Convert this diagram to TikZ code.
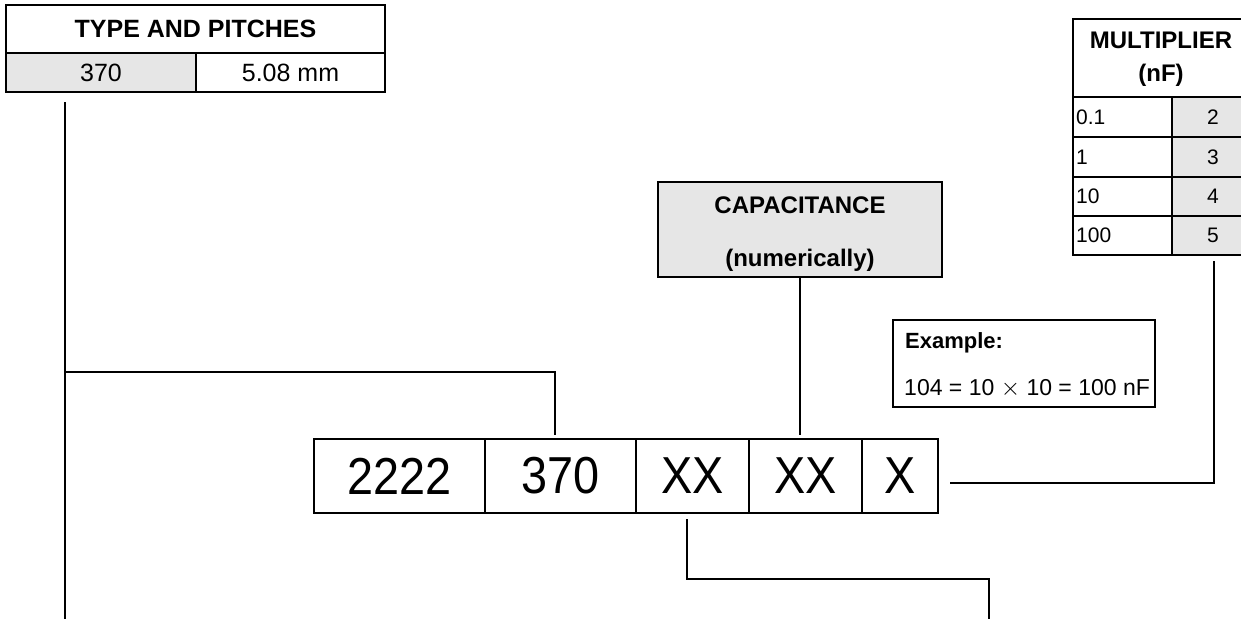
\documentclass[tikz,border=0pt]{standalone}
\usepackage{fontspec}
\setmainfont{Liberation Sans}
\usepackage{graphicx}
\definecolor{cellgray}{HTML}{E6E6E6}
\begin{document}
\begin{tikzpicture}[x=1pt,y=-1pt,
  cell/.style={draw,line width=1.3pt,inner sep=0pt,outer sep=0pt},
  shaded/.style={fill=cellgray},
  boldtxt/.style={font=\fontsize{25}{29}\selectfont\bfseries},
  txt/.style={font=\fontsize{25}{29}\selectfont},
  rowtxt/.style={font=\fontsize{21}{25}\selectfont},
  bigtxt/.style={font=\fontsize{52}{60}\selectfont},
  conn/.style={line width=2.6pt,line cap=rect}]
\useasboundingbox (0,0) rectangle (1241,618);

% ---- type and pitches table
\node[cell,boldtxt,minimum width=379pt,minimum height=48pt] (tphead) at (195.5,29) {TYPE AND PITCHES};
\node[cell,shaded,txt,minimum width=190pt,minimum height=39pt] (tp370) at (101,72.5) {370};
\node[cell,txt,minimum width=189pt,minimum height=39pt] (tp508) at (290.5,72.5) {5.08 mm};

% ---- main code box
\node[cell,bigtxt,minimum width=171pt,minimum height=74pt] (c1) at (399.5,476) {\scalebox{0.9}[1]{2222}};
\node[cell,bigtxt,minimum width=151pt,minimum height=74pt] (c2) at (560.5,476) {\scalebox{0.9}[1]{370}};
\node[cell,bigtxt,minimum width=113pt,minimum height=74pt] (c3) at (692.5,476) {\scalebox{0.9}[1]{XX}};
\node[cell,bigtxt,minimum width=113pt,minimum height=74pt] (c4) at (805.5,476) {\scalebox{0.9}[1]{XX}};
\node[cell,bigtxt,minimum width=76pt,minimum height=74pt] (c5) at (900,476) {\scalebox{0.9}[1]{X}};

% ---- capacitance box
\node[cell,shaded,minimum width=284pt,minimum height=95pt] (cap) at (800,229.5) {};
\node[align=center,font=\fontsize{24}{53}\selectfont\bfseries] (captxt) at (800,234) {CAPACITANCE\\(numerically)};

% ---- example box
\node[cell,minimum width=262pt,minimum height=87pt] (ex) at (1024,363.5) {};
\node[font=\fontsize{22}{26}\selectfont\bfseries,anchor=base west,inner sep=0pt] (exhead) at (905,348) {Example:};
\node[font=\fontsize{23}{26}\selectfont,anchor=base west,inner sep=0pt] (exbody) at (904,395) {104 = 10 $\times$ 10 = 100 nF};

% ---- multiplier table (runs past the right edge of the page)
\node[cell,minimum width=181pt,minimum height=78pt] (mhead) at (1163.5,58) {};
\node[align=center,font=\fontsize{24}{33}\selectfont\bfseries] (mheadtxt) at (1161,59) {MULTIPLIER\\(nF)};
\foreach \i/\a/\b/\yc/\h in {1/0.1/2/117/40,2/1/3/157/40,3/10/4/196.5/39,4/100/5/235.5/39}{
  \node[cell,minimum width=99pt,minimum height=\h pt] (ml\i) at (1122.5,\yc) {};
  \node[rowtxt,anchor=west,inner sep=0pt] (mlt\i) at (1076,\yc) {\a};
  \node[cell,shaded,minimum width=82pt,minimum height=\h pt] (mr\i) at (1213,\yc) {};
  \node[rowtxt,inner sep=0pt] (mrt\i) at (1213,\yc) {\b};
}

% ---- connectors
\coordinate (ltop) at (65,103);
\coordinate (lbot) at (65,618);
\draw[conn] (ltop) -- (lbot);
\coordinate (ljoin) at (65,372);
\coordinate (c2top) at (555,434);
\draw[conn] (ljoin) -| (c2top);
\coordinate (c4top) at (800,434);
\draw[conn] (cap.south) -- (c4top);
\coordinate (c3bot) at (687,520);
\coordinate (c3mid) at (687,579);
\coordinate (rbot) at (989,618);
\draw[conn] (c3bot) -- (c3mid) -| (rbot);
\coordinate (c5out) at (951,483);
\coordinate (mbot) at (1214,262);
\draw[conn] (c5out) -| (mbot);
\end{tikzpicture}
\end{document}
